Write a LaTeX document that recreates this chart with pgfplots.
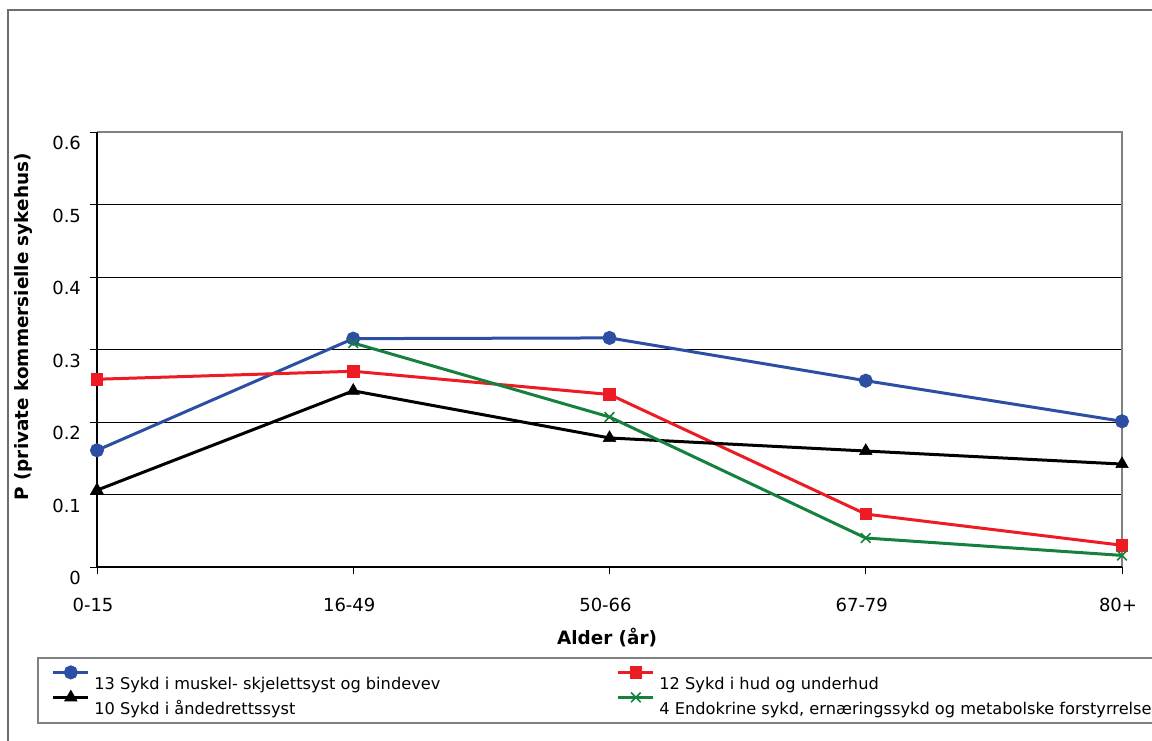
\documentclass[border=0pt]{standalone}
\usepackage{pgfplots}
\pgfplotsset{compat=1.18}
\usepackage{fontspec}
\setmainfont{DejaVu Sans}

\definecolor{serblue}{RGB}{44,79,164}
\definecolor{serred}{RGB}{237,28,36}
\definecolor{sergreen}{RGB}{22,128,62}
\definecolor{framegray}{RGB}{110,110,110}
\definecolor{boxgray}{RGB}{128,128,128}

\begin{document}
\begin{tikzpicture}
\path[use as bounding box] (0,0) rectangle (576pt,-370pt);
\clip (0,0) rectangle (576pt,-370pt);
% chart frame and legend frame (both run past the right edge)
\draw[draw=framegray, line width=0.75pt] (4pt,-5pt) rectangle (640pt,-420pt);
\draw[draw=boxgray, line width=0.75pt] (19pt,-329pt) rectangle (640pt,-361.5pt);

\begin{axis}[
  at={(48.5pt,-283.5pt)}, anchor=south west,
  scale only axis, width=512.5pt, height=217.5pt,
  xmin=0, xmax=4, ymin=0, ymax=0.6,
  clip=false,
  axis line style={draw=none},
  xtick={0,1,2,3,4},
  xticklabels={0-15,16-49,50-66,67-79,80+},
  ytick={0,0.1,0.2,0.3,0.4,0.5,0.6},
  yticklabels={0,0.1,0.2,0.3,0.4,0.5,0.6},
  xtick pos=bottom, ytick pos=left,
  tick align=outside, major tick length=3.5pt,
  tick style={black, line width=0.5pt},
  ymajorgrids, major grid style={black, line width=0.5pt},
  ticklabel style={font=\fontsize{9}{11}\selectfont},
  /pgf/number format/assume math mode=true,
  yticklabel style={xshift=-1pt, yshift=-5.5pt},
  xticklabel style={xshift=-2pt, yshift=-8.5pt},
  xlabel={Alder (år)},
  ylabel={P (private kommersielle sykehus)},
  label style={font=\fontsize{9.2}{11}\selectfont\bfseries},
  xlabel style={at={(axis description cs:0.4976,-0.163)}, anchor=center},
  ylabel style={at={(axis description cs:-0.0717,0.552)}, anchor=center},
  legend columns=2,
  legend cell align=left,
  % sample line sits above the entry text; only its width counts for layout
  legend image code/.code={
    \path[draw=none, fill=none] (0pt,0pt) -- (18.5pt,0pt);
    \draw[overlay, mark repeat=2, mark phase=2, #1]
      plot coordinates {(0pt,6.5pt) (8.75pt,6.5pt) (17.5pt,6.5pt)};
  },
  legend style={
    at={(axis description cs:-0.0430,-0.2471)}, anchor=north west,
    draw=none, fill=none, inner sep=0pt,
    font=\fontsize{8.1}{10}\selectfont,
    nodes={inner ysep=1pt, text height=6.5pt, text depth=2pt},
    row sep=2pt,
    /tikz/every even column/.append style={column sep=87pt},
  },
]
% plot area border: black axes left and bottom, grey top and right
\draw[boxgray, line width=0.6pt] (rel axis cs:0,1) -- (rel axis cs:1,1) -- (rel axis cs:1,0);
\draw[black, line width=0.6pt] (rel axis cs:0,1) -- (rel axis cs:0,0) -- (rel axis cs:1,0);

\addplot[serblue, line width=1.5pt, mark=*, mark size=2.75pt,
  mark options={solid, fill=serblue, draw=serblue}]
  coordinates {(0,0.161) (1,0.315) (2,0.316) (3,0.257) (4,0.201)};
\addlegendentry{13 Sykd i muskel- skjelettsyst og bindevev}

\addplot[serred, line width=1.5pt, mark=square*, mark size=2.9pt,
  mark options={solid, fill=serred, draw=serred, line width=0.4pt}]
  coordinates {(0,0.259) (1,0.270) (2,0.238) (3,0.073) (4,0.030)};
\addlegendentry{12 Sykd i hud og underhud}

\addplot[black, line width=1.5pt, mark=triangle*, mark size=3.6pt,
  mark options={solid, fill=black, draw=black, line width=0.3pt}]
  coordinates {(0,0.106) (1,0.243) (2,0.178) (3,0.160) (4,0.142)};
\addlegendentry{10 Sykd i åndedrettssyst}

\addplot[sergreen, line width=1.5pt, mark=x, mark size=3.4pt,
  mark options={solid, draw=sergreen, line width=0.8pt}]
  coordinates {(1,0.309) (2,0.207) (3,0.040) (4,0.016)};
\addlegendentry{4 Endokrine sykd, ernæringssykd og metabolske forstyrrelser}
\end{axis}
\end{tikzpicture}
\end{document}
